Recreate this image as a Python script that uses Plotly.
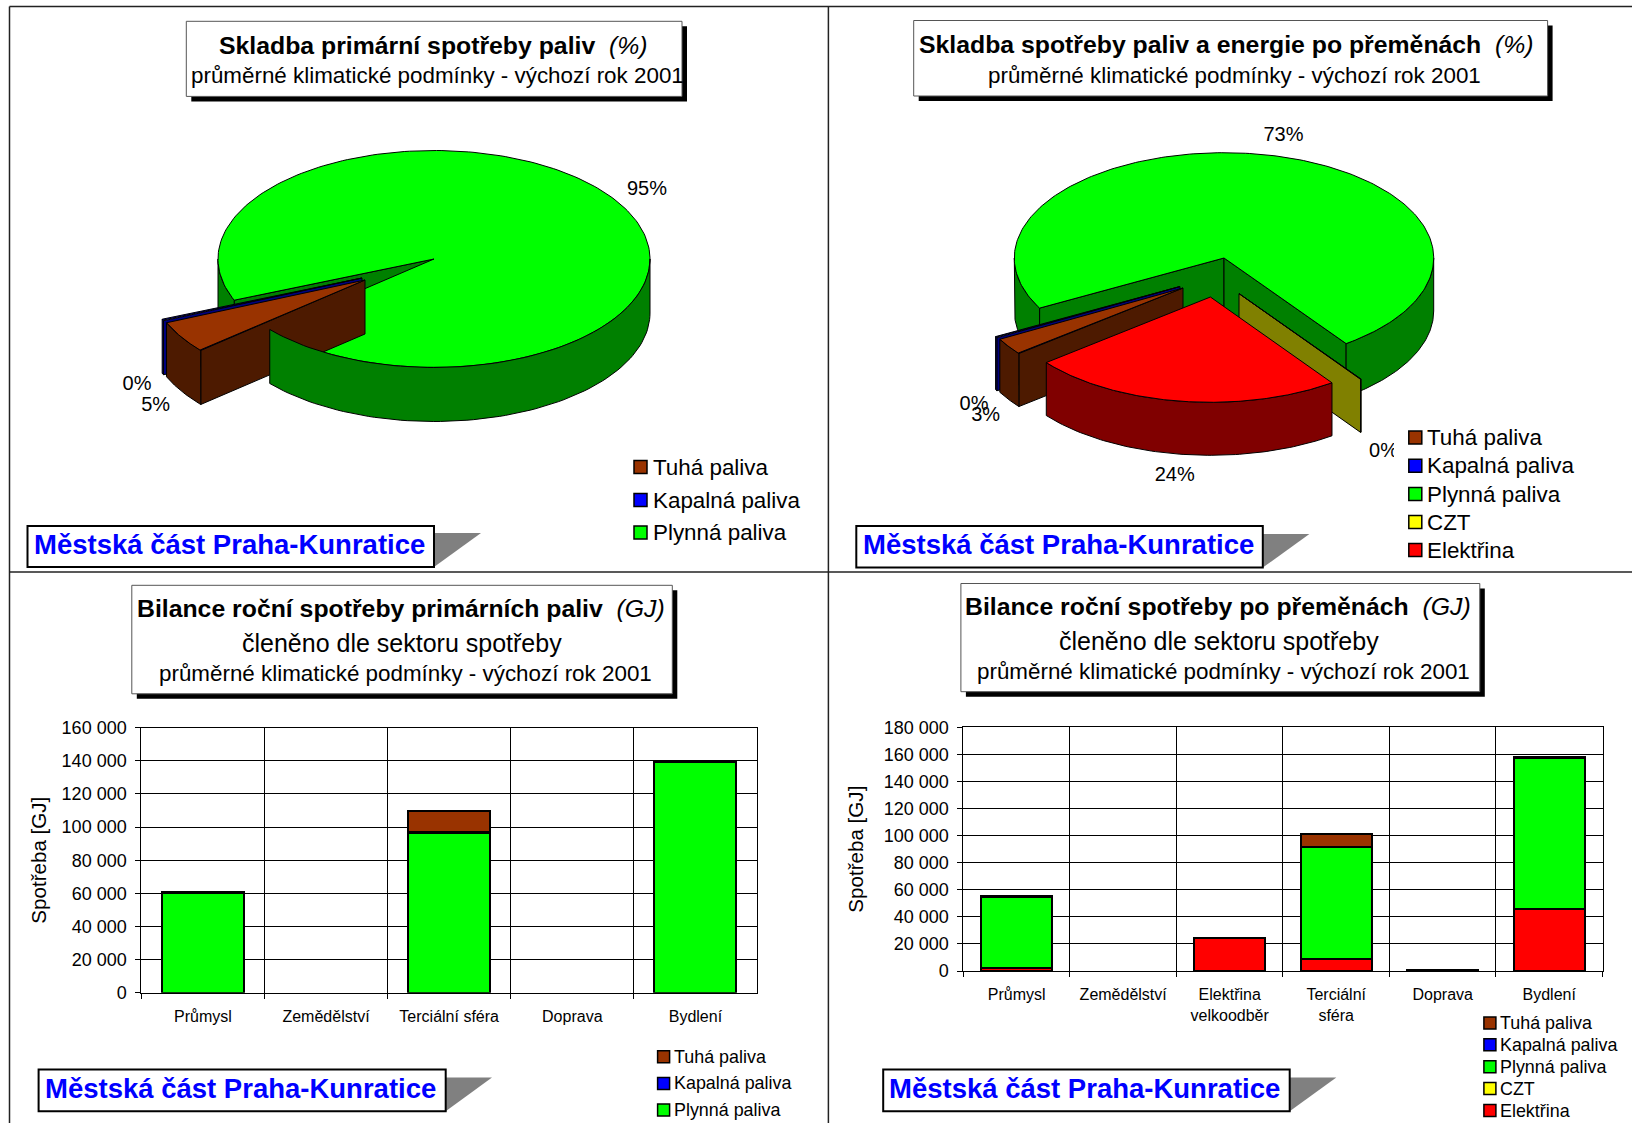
import numpy as np
import plotly.graph_objects as go

# ---------- data ----------
FONT = "Liberation Sans"
fuels3 = ["Tuhá paliva", "Kapalná paliva", "Plynná paliva"]
fuels5 = ["Tuhá paliva", "Kapalná paliva", "Plynná paliva", "CZT", "Elektřina"]

pie1_values = [4.8, 0.25, 94.95]
pie2_values = [2.6, 0.2, 73.0, 0.05, 24.15]

sectors3 = ["Průmysl", "Zemědělství", "Terciální sféra", "Doprava", "Bydlení"]
b3_tuha = [300, 0, 13000, 0, 700]
b3_kapalna = [200, 0, 300, 0, 400]
b3_plynna = [60500, 0, 96500, 0, 139000]

sectors4 = ["Průmysl", "Zemědělství", "Elektřina<br>velkoodběr", "Terciální<br>sféra", "Doprava", "Bydlení"]
b4_tuha = [300, 0, 0, 9300, 0, 700]
b4_kapalna = [300, 0, 0, 300, 0, 400]
b4_plynna = [52000, 0, 0, 83000, 0, 111000]
b4_czt = [0, 0, 0, 0, 0, 0]
b4_elektrina = [2500, 0, 24500, 8500, 500, 46000]

COL = {"Tuhá paliva": ("#993300", "#4d1a00"), "Kapalná paliva": ("#0000ff", "#000080"),
       "Plynná paliva": ("#00ff00", "#008000"), "CZT": ("#ffff00", "#808000"),
       "Elektřina": ("#ff0000", "#800000")}

W, H = 1632, 1123
fig = go.Figure()
shapes, annos = [], []


def poly(xs, ys, fill):
    fig.add_trace(go.Scatter(x=list(xs), y=list(ys), mode="lines", fill="toself", fillcolor=fill,
                             line=dict(color="black", width=1), hoverinfo="skip",
                             xaxis="x", yaxis="y", showlegend=False))


def pie3d(values, names, t0, cx, cy, rx, ry, depth, offs, order, front_last=None):
    total = sum(values)
    t = t0
    spans = {}
    for v, n in zip(values, names):
        spans[n] = (t, t + v / total * 360)
        t += v / total * 360

    def wall_arc(n, lo, hi):
        t1, t2 = spans[n]
        dx, dy = offs.get(n, (0, 0))
        a1, a2 = max(t1, lo), min(t2, hi)
        if a2 > a1:
            arc = np.radians(np.linspace(a1, a2, 80))
            xs = cx + dx + rx * np.cos(arc)
            ys = cy + dy + ry * np.sin(arc)
            poly(np.r_[xs, xs[::-1], xs[0]], np.r_[ys, ys[::-1] + depth, ys[0]], COL[n][1])

    for n in order:
        t1, t2 = spans[n]
        dx, dy = offs.get(n, (0, 0))
        ax, ay = cx + dx, cy + dy
        top, wall = COL[n]
        px = lambda a: ax + rx * np.cos(np.radians(a))
        py = lambda a: ay + ry * np.sin(np.radians(a))
        for a, vis in ((t1, np.cos(np.radians(t1)) < 0), (t2, np.cos(np.radians(t2)) > 0)):
            if vis:
                poly([ax, px(a), px(a), ax, ax], [ay, py(a), py(a) + depth, ay + depth, ay], wall)
        wall_arc(n, 0, 180)
        if n != front_last:
            wall_arc(n, 360, 540)
        arc = np.linspace(t1, t2, 240)
        poly(np.r_[ax, px(arc), ax], np.r_[ay, py(arc), ay], top)
    if front_last:
        wall_arc(front_last, 360, 540)


def pct_labels(values, pos):
    for v, (x, y) in zip(values, pos):
        fig.add_trace(go.Scatter(x=[x], y=[y], mode="text", text=[f"{round(v)}%"],
                                 textfont=dict(family=FONT, size=20, color="black"),
                                 textposition="middle center", hoverinfo="skip",
                                 xaxis="x", yaxis="y", showlegend=False))


def legend(names, x, ys, size, fs, textdx):
    for n, y in zip(names, ys):
        fig.add_trace(go.Scatter(x=[x], y=[y], mode="markers", name=n,
                                 marker=dict(symbol="square", size=size, color=COL[n][0],
                                             line=dict(color="black", width=1.5)),
                                 hoverinfo="skip", xaxis="x", yaxis="y", showlegend=False))
        annos.append(dict(x=x + textdx, y=y, xref="x", yref="y", text=n, showarrow=False, xanchor="left",
                          font=dict(family=FONT, size=fs, color="black")))


def title_box(x0, y0, x1, y1, lines):
    shapes.append(dict(type="rect", xref="x", yref="y", x0=x0 + 5, y0=y0 + 5, x1=x1 + 5, y1=y1 + 5,
                       fillcolor="black", line=dict(width=0)))
    shapes.append(dict(type="rect", xref="x", yref="y", x0=x0, y0=y0, x1=x1, y1=y1,
                       fillcolor="white", line=dict(color="#555555", width=1)))
    for txt, x, y, fs in lines:
        annos.append(dict(x=x, y=y, xref="x", yref="y", text=txt, showarrow=False,
                          font=dict(family=FONT, size=fs, color="black")))


def brand(x0, y0, x1, y1, tipx, tipy, tx):
    shapes.append(dict(type="path", xref="x", yref="y",
                       path=f"M{x1},{tipy} L{tipx},{tipy} L{x1},{y1} Z",
                       fillcolor="#808080", line=dict(width=0)))
    shapes.append(dict(type="rect", xref="x", yref="y", x0=x0, y0=y0, x1=x1, y1=y1,
                       fillcolor="white", line=dict(color="black", width=2)))
    annos.append(dict(x=tx, y=(y0 + y1) / 2 - 2, xref="x", yref="y", text="<b>Městská část Praha-Kunratice</b>",
                      showarrow=False, font=dict(family=FONT, size=27.5, color="#0000ff")))


# ---------- pies ----------
pie3d(pie1_values, fuels3, 139.5, 434, 259, 216, 108.5, 54,
      {"Tuhá paliva": (-69, 21), "Kapalná paliva": (-72, 19)},
      ["Plynná paliva", "Kapalná paliva", "Tuhá paliva"], front_last="Plynná paliva")
pct_labels(pie1_values, [(155.6, 406), (137, 384.5), (647, 190)])

pie3d(pie2_values, fuels5, 141.5, 1224, 258, 209.7, 105.3, 53,
      {"Tuhá paliva": (-41, 30), "Kapalná paliva": (-44, 28.5),
       "CZT": (15, 35.6), "Elektřina": (-13.6, 39)},
      ["Plynná paliva", "CZT", "Kapalná paliva", "Tuhá paliva", "Elektřina"])
pct_labels(pie2_values, [(985.7, 416.4), (974, 404.6), (1283.5, 136), (1383.5, 451.6), (1174.7, 476)])
# the legend's white ground hides part of one label, as in the reference
fig.add_trace(go.Scatter(x=[1394, 1620, 1620, 1394, 1394], y=[425, 425, 566, 566, 425], mode="lines",
                         fill="toself", fillcolor="white", line=dict(width=0), hoverinfo="skip",
                         xaxis="x", yaxis="y", showlegend=False))

legend(fuels3, 640.5, [467, 500, 532.5], 13, 22.4, 10)
legend(fuels5, 1415.3, [437.5, 465.7, 494, 522, 550], 13, 22.4, 10)
legend(fuels3, 663.6, [1056.8, 1083.4, 1110], 12, 17.9, 8.5)
legend(fuels5, 1489.9, [1023, 1044.7, 1066.8, 1088.5, 1110.5], 12, 17.9, 8.5)

# ---------- bars ----------
def add_bars(cats, series, xa, ya):
    for n, v in series:
        fig.add_trace(go.Bar(x=cats, y=[q if q else None for q in v], name=n,
                             marker=dict(color=COL[n][0], line=dict(color="black", width=2)),
                             xaxis=xa, yaxis=ya, showlegend=False))


add_bars(sectors3, [("Plynná paliva", b3_plynna), ("Kapalná paliva", b3_kapalna), ("Tuhá paliva", b3_tuha)], "x2", "y2")
add_bars(sectors4, [("Elektřina", b4_elektrina), ("CZT", b4_czt), ("Plynná paliva", b4_plynna),
                    ("Kapalná paliva", b4_kapalna), ("Tuhá paliva", b4_tuha)], "x3", "y3")


def xax(x0, x1, anchor, cats):
    return dict(domain=[x0 / W, x1 / W], anchor=anchor, type="category", categoryorder="array", categoryarray=cats,
                tickson="boundaries", ticks="outside", automargin=False,
                ticklen=5, tickcolor="black", showgrid=True, gridcolor="black", gridwidth=1, showline=True,
                linecolor="black", linewidth=1, mirror=True, tickfont=dict(family=FONT, size=16, color="black"),
                ticklabelstandoff=9, tickangle=0)


def yax(y0, y1, anchor, top, standoff):
    return dict(domain=[1 - y1 / H, 1 - y0 / H], anchor=anchor, range=[0, top], dtick=20000, tick0=0,
                tickformat=",d", ticks="outside", ticklen=5, tickcolor="black", showgrid=True, gridcolor="black",
                gridwidth=1, zeroline=False, showline=True, linecolor="black", linewidth=1, mirror=True,
                automargin=False, tickfont=dict(family=FONT, size=18, color="black"), ticklabelstandoff=5,
                title=dict(text="Spotřeba [GJ]", font=dict(family=FONT, size=20.6, color="black"), standoff=standoff))


# ---------- text blocks ----------
sub = "průměrné klimatické podmínky - výchozí rok 2001"
split = "členěno dle sektoru spotřeby"
TF = 24.8
title_box(186.3, 21.3, 682, 96.4, [("<b>Skladba primární spotřeby paliv</b>  <i>(%)</i>", 433, 45, TF),
                                   (sub, 437, 75, 22.4)])
title_box(913.7, 20.5, 1547.6, 96, [("<b>Skladba spotřeby paliv a energie po přeměnách</b>  <i>(%)</i>", 1226.5, 44.7, TF),
                                    (sub, 1234.3, 75, 22.4)])
title_box(131.8, 585.3, 672.3, 693.8, [("<b>Bilance roční spotřeby primárních paliv</b>  <i>(GJ)</i>", 400.5, 608, TF),
                                       (split, 401.5, 642.6, 25), (sub, 405.5, 673.5, 22.4)])
title_box(960.9, 583.5, 1479.8, 691.7, [("<b>Bilance roční spotřeby po přeměnách</b>  <i>(GJ)</i>", 1218, 606, TF),
                                        (split, 1219.3, 640.8, 25), (sub, 1223.4, 671.4, 22.4)])
brand(27.5, 526, 434, 567, 481, 533, 229)
brand(856.3, 526, 1262.8, 567.6, 1309.4, 534, 1058)
brand(38.6, 1069.6, 445.7, 1111.3, 492, 1077.5, 240)
brand(883.2, 1069.6, 1289.7, 1111.3, 1336.3, 1077.5, 1084)

# ---------- frame lines ----------
for x0, y0, x1, y1 in [(9.5, 6.6, 9.5, H), (9.5, 6.6, W, 6.6), (828.4, 6.6, 828.4, H), (9.5, 572, W, 572)]:
    shapes.append(dict(type="line", xref="x", yref="y", x0=x0, y0=y0, x1=x1, y1=y1,
                       line=dict(color="#222222", width=1.5)))

fig.update_layout(
    width=W, height=H, margin=dict(l=0, r=0, t=0, b=0, autoexpand=False), paper_bgcolor="white",
    plot_bgcolor="rgba(0,0,0,0)",
    barmode="stack", bargap=1 / 3, separators=", ", showlegend=False, shapes=shapes, annotations=annos,
    font=dict(family=FONT, color="black"),
    xaxis=dict(domain=[0, 1], range=[0, W], visible=False, fixedrange=True),
    yaxis=dict(domain=[0, 1], range=[H, 0], visible=False, fixedrange=True),
    xaxis2=xax(141.3, 757, "y2", sectors3), yaxis2=yax(727.6, 992.8, "x2", 160000, 9),
    xaxis3=xax(963.4, 1602.5, "y3", sectors4), yaxis3=yax(727.3, 971, "x3", 180000, 14),
)
fig.write_html("out.html", config={"displayModeBar": False},
               post_script="document.body.style.margin='0';document.documentElement.style.overflow='hidden';")
